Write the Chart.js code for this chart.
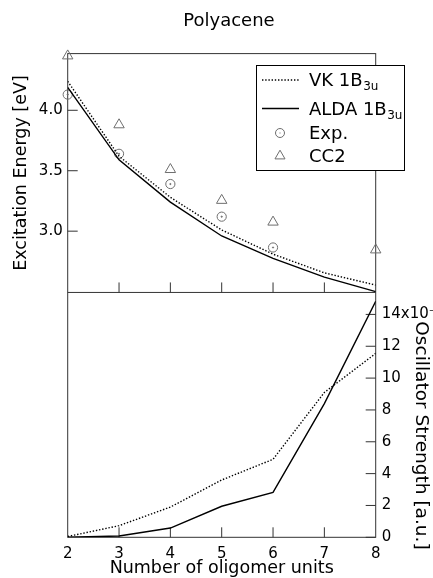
<!DOCTYPE html>
<html>
<head>
<meta charset="utf-8">
<script src="https://cdn.jsdelivr.net/npm/chart.js@4/dist/chart.umd.min.js"></script>
<style>
  html, body { margin: 0; padding: 0; background: #ffffff; }
</style>
</head>
<body>
<canvas id="polyacene" width="433" height="578"></canvas>
<script>
// number of rings on the x axis
const units = [2, 3, 4, 5, 6, 7, 8];

// excitation energies [eV], upper panel
const vkEnergy = [4.24, 3.62, 3.28, 3.01, 2.81, 2.655, 2.554];
const aldaEnergy = [4.19, 3.59, 3.24, 2.96, 2.775, 2.62, 2.5];
const expEnergy = [4.13, 3.64, 3.39, 3.12, 2.865, null, null];
const cc2Energy = [4.45, 3.88, 3.51, 3.255, 3.075, null, 2.845];

// oscillator strengths [x10^-3 a.u.], lower panel
const vkOsc = [0.05, 0.73, 1.9, 3.6, 4.9, 9.1, 11.55];
const aldaOsc = [0, 0.08, 0.58, 1.95, 2.82, 8.4, 14.83];

const energyTicks = [3.0, 3.5, 4.0];
const oscTicks = [0, 2, 4, 6, 8, 10, 12, 14];

const legendItems = [
    { text: "VK 1B", sub: "3u", kind: "dotted" },
    { text: "ALDA 1B", sub: "3u", kind: "solid" },
    { text: "Exp.", sub: "", kind: "circle" },
    { text: "CC2", sub: "", kind: "triangle" },
];

const FONT = "'DejaVu Sans', sans-serif";
const markerColor = "#6e6e6e";
const DOTS = [1.4, 1.8];

const pts = (vals) =>
    units.map((u, i) => ({ x: u, y: vals[i] })).filter((p) => p.y !== null);

// frame, divider and inward tick marks
const panelFrame = {
    id: "panelFrame",
    beforeDatasetsDraw(chart) {
        const { ctx, chartArea: a, scales } = chart;
        const mid = scales.yE.bottom;
        const tl = 10;
        ctx.save();
        ctx.strokeStyle = "#333";
        ctx.lineWidth = 1;
        ctx.strokeRect(a.left, a.top, a.width, a.height);
        ctx.beginPath();
        ctx.moveTo(a.left, mid);
        ctx.lineTo(a.right, mid);
        units.slice(1, -1).forEach((u) => {
            const px = scales.x.getPixelForValue(u);
            ctx.moveTo(px, mid);
            ctx.lineTo(px, mid - tl);
            ctx.moveTo(px, a.bottom);
            ctx.lineTo(px, a.bottom - tl);
        });
        energyTicks.forEach((v) => {
            const py = scales.yE.getPixelForValue(v);
            ctx.moveTo(a.left, py);
            ctx.lineTo(a.left + tl, py);
        });
        oscTicks.forEach((v) => {
            const py = scales.yF.getPixelForValue(v);
            ctx.moveTo(a.right, py);
            ctx.lineTo(a.right - tl, py);
        });
        ctx.stroke();
        ctx.restore();
    },
};

// boxed legend with subscripts
const boxedLegend = {
    id: "boxedLegend",
    afterDraw(chart) {
        const ctx = chart.ctx;
        const box = { x: 256.5, y: 65.5, w: 148, h: 105 };
        const baselines = [86, 114.5, 139, 162];
        const symX = 280;
        const tx = 309;
        ctx.save();
        ctx.fillStyle = "#fff";
        ctx.fillRect(box.x, box.y, box.w, box.h);
        ctx.strokeStyle = "#000";
        ctx.lineWidth = 1;
        ctx.strokeRect(box.x, box.y, box.w, box.h);

        legendItems.forEach((item, i) => {
            const by = baselines[i];
            const cy = by - 6;
            ctx.beginPath();
            if (item.kind === "dotted" || item.kind === "solid") {
                ctx.strokeStyle = "#000";
                ctx.lineWidth = 1.4;
                ctx.setLineDash(item.kind === "dotted" ? DOTS : []);
                ctx.moveTo(262, cy);
                ctx.lineTo(299, cy);
                ctx.stroke();
                ctx.setLineDash([]);
            } else if (item.kind === "circle") {
                ctx.strokeStyle = markerColor;
                ctx.lineWidth = 1;
                ctx.arc(symX, cy, 4.5, 0, Math.PI * 2);
                ctx.stroke();
                ctx.fillStyle = markerColor;
                ctx.fillRect(symX - 0.5, cy - 0.5, 1, 1);
            } else {
                const r = 5.8;
                ctx.strokeStyle = markerColor;
                ctx.lineWidth = 1;
                ctx.moveTo(symX, cy - r);
                ctx.lineTo(symX + r * 0.866, cy + r / 2);
                ctx.lineTo(symX - r * 0.866, cy + r / 2);
                ctx.closePath();
                ctx.stroke();
            }
            ctx.fillStyle = "#000";
            ctx.textBaseline = "alphabetic";
            ctx.textAlign = "left";
            ctx.font = "18px " + FONT;
            ctx.fillText(item.text, tx, by);
            if (item.sub) {
                const w = ctx.measureText(item.text).width;
                ctx.font = "12px " + FONT;
                ctx.fillText(item.sub, tx + w + 0.5, by + 4);
            }
        });
        ctx.restore();
    },
};

const tickFont = { family: FONT, size: 15 };
const titleFont = { family: FONT, size: 17.5 };

const lineSet = (label, vals, axis, dashed) => ({
    label: label,
    data: pts(vals),
    xAxisID: "x",
    yAxisID: axis,
    borderColor: "#000",
    borderWidth: 1.4,
    borderDash: dashed ? DOTS : [],
    pointRadius: 0,
    fill: false,
    tension: 0,
});

const markerSet = (label, vals, style, radius) => ({
    label: label,
    data: pts(vals),
    xAxisID: "x",
    yAxisID: "yE",
    showLine: false,
    pointStyle: style,
    pointRadius: radius,
    pointBorderColor: markerColor,
    pointBackgroundColor: "rgba(0,0,0,0)",
    pointBorderWidth: 1,
    clip: false,
});

const datasets = [
    lineSet("VK 1B3u", vkEnergy, "yE", true),
    lineSet("ALDA 1B3u", aldaEnergy, "yE", false),
    markerSet("Exp.", expEnergy, "circle", 4.6),
    Object.assign(markerSet("Exp. centre", expEnergy, "circle", 0.6), {
        pointBackgroundColor: markerColor,
    }),
    markerSet("CC2", cc2Energy, "triangle", 6),
    lineSet("VK 1B3u f", vkOsc, "yF", true),
    lineSet("ALDA 1B3u f", aldaOsc, "yF", false),
];

new Chart(document.getElementById("polyacene"), {
    type: "line",
    data: { datasets: datasets },
    options: {
        responsive: false,
        animation: false,
        devicePixelRatio: 1,
        layout: { padding: { left: 25, right: 0, top: 0, bottom: 0 } },
        plugins: {
            legend: { display: false },
            tooltip: { enabled: false },
            title: {
                display: true,
                text: "Polyacene",
                color: "#000",
                font: { family: FONT, size: 18, weight: "normal" },
                padding: { top: 11, bottom: 21 },
            },
        },
        scales: {
            x: {
                type: "linear",
                position: "bottom",
                min: 2,
                max: 8,
                afterBuildTicks: (s) => {
                    s.ticks = units.map((v) => ({ value: v }));
                },
                ticks: { color: "#000", font: tickFont, padding: 8, maxRotation: 0, autoSkip: false },
                grid: { display: false, drawTicks: false },
                border: { display: false },
                title: {
                    display: true,
                    text: "Number of oligomer units",
                    color: "#000",
                    font: titleFont,
                    padding: { top: 0, bottom: -1 },
                },
                afterFit: (s) => {
                    s.height = 40.7;
                },
            },
            // left stack is laid out in reverse order, so the lower placeholder comes first
            yFL: {
                type: "linear",
                position: "left",
                stack: "L",
                stackWeight: 245,
                display: false,
                afterFit: (s) => {
                    s.width = 42.7;
                },
            },
            yE: {
                type: "linear",
                position: "left",
                stack: "L",
                stackWeight: 239,
                min: 2.493,
                max: 4.469,
                afterBuildTicks: (s) => {
                    s.ticks = energyTicks.map((v) => ({ value: v }));
                },
                ticks: {
                    color: "#000",
                    font: tickFont,
                    padding: 5,
                    autoSkip: false,
                    callback: (v) => Number(v).toFixed(1),
                },
                grid: { display: false, drawTicks: false },
                border: { display: false },
                title: {
                    display: true,
                    text: "Excitation Energy [eV]",
                    color: "#000",
                    font: titleFont,
                    padding: { top: -14, bottom: 0 },
                },
                afterFit: (s) => {
                    s.width = 42.7;
                },
            },
            yER: {
                type: "linear",
                position: "right",
                stack: "R",
                stackWeight: 239,
                display: false,
                afterFit: (s) => {
                    s.width = 57.3;
                },
            },
            yF: {
                type: "linear",
                position: "right",
                stack: "R",
                stackWeight: 245,
                min: 0,
                max: 15.38,
                afterBuildTicks: (s) => {
                    s.ticks = oscTicks.map((v) => ({ value: v }));
                },
                ticks: {
                    color: "#000",
                    font: tickFont,
                    padding: 6,
                    autoSkip: false,
                    callback: (v) => (v === 14 ? "14x10\u207B\u00B3" : String(v)),
                },
                grid: { display: false, drawTicks: false },
                border: { display: false },
                title: {
                    display: true,
                    // leading spaces push the centred title down past the panel's foot, as in the source figure
                    text: "       Oscillator Strength [a.u.]",
                    color: "#000",
                    font: { family: FONT, size: 18.5 },
                    align: "center",
                    padding: { top: 1, bottom: 0 },
                },
                afterFit: (s) => {
                    s.width = 57.3;
                },
            },
        },
    },
    plugins: [panelFrame, boxedLegend],
});
</script>
</body>
</html>
